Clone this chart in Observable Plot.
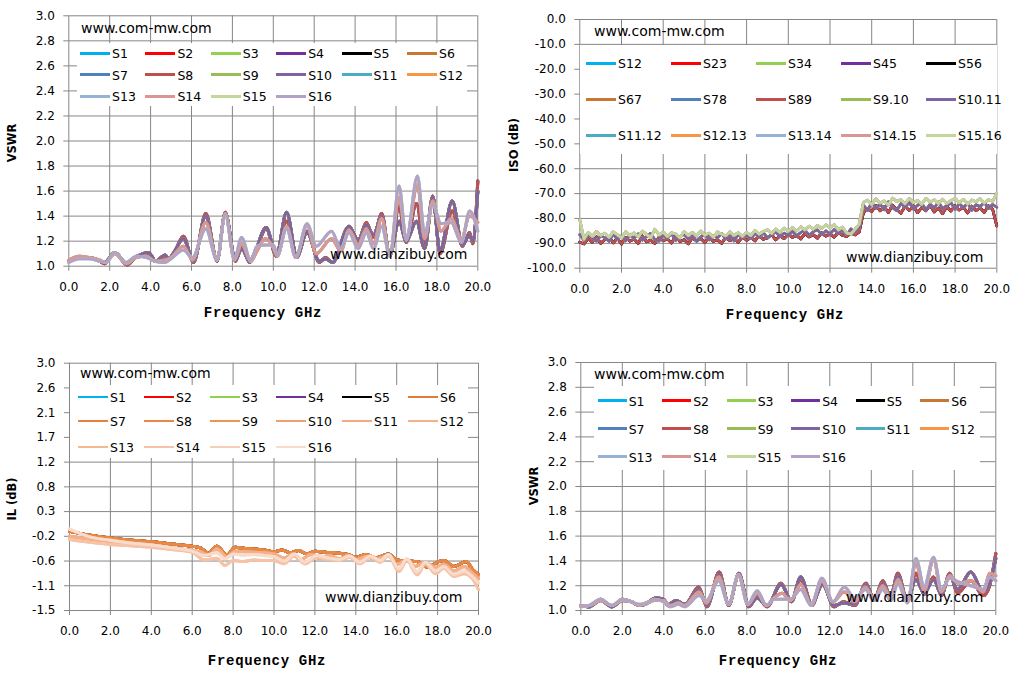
<!DOCTYPE html>
<html><head><meta charset="utf-8">
<script src="https://cdn.jsdelivr.net/npm/d3@7"></script>
<script src="https://cdn.jsdelivr.net/npm/@observablehq/plot@0.6"></script>
<style>
body{margin:0;background:#fff;}
#page{position:relative;width:1032px;height:674px;overflow:hidden;font-family:"DejaVu Sans",sans-serif;background:#fff;}
.chart{position:absolute;}
.chart svg text{fill:#000;}
.ov{position:absolute;white-space:nowrap;color:#000;}
.lbox{position:absolute;background:#fff;}
.lline{position:absolute;}
</style>
</head><body><div id="page"></div>
<script>
// ---------- common ----------
const xTicks = [0, 2, 4, 6, 8, 10, 12, 14, 16, 18, 20];
const namesS = ["S1","S2","S3","S4","S5","S6","S7","S8","S9","S10","S11","S12","S13","S14","S15","S16"];
const colorsS = ["#00B0F0","#FF0000","#92D050","#7030A0","#000000","#C87832","#4F81BD","#C0504D","#9BBB59","#8064A2","#4BACC6","#F79646","#95B3D7","#D99694","#C3D69B","#B3A2C7"];

// ---------- panel 1 (VSWR, top-left) ----------
const yTicks1 = [1.0,1.2,1.4,1.6,1.8,2.0,2.2,2.4,2.6,2.8,3.0];
const freq1Dark = [0,0.4,1.0,1.4,1.75,2.25,2.85,3.35,3.9,4.25,4.7,4.9,5.1,5.6,6.1,6.7,7.25,7.65,8.15,8.45,8.85,9.1,9.65,10.15,10.65,11.15,11.65,12.25,12.55,12.9,13.7,14.15,14.55,14.9,15.3,15.7,16.15,16.5,17.0,17.4,17.8,18.15,18.75,19.25,19.6,19.75,20];
const vswr1A = [1.04,1.07,1.07,1.05,1.02,1.11,1.01,1.08,1.09,1.04,1.07,1.06,1.09,1.24,1.03,1.42,1.04,1.43,1.04,1.15,1.03,1.10,1.30,1.08,1.36,1.07,1.28,1.03,1.07,1.03,1.30,1.20,1.35,1.23,1.42,1.08,1.48,1.19,1.50,1.18,1.56,1.10,1.44,1.16,1.27,1.18,1.68];
const vswr1B = [1.04,1.07,1.07,1.05,1.03,1.11,1.02,1.08,1.11,1.04,1.09,1.06,1.10,1.22,1.04,1.40,1.05,1.42,1.05,1.14,1.04,1.11,1.31,1.09,1.43,1.08,1.27,1.04,1.06,1.03,1.32,1.21,1.33,1.25,1.40,1.09,1.36,1.20,1.36,1.14,1.55,1.12,1.52,1.17,1.25,1.20,1.60];
const freq1Light = [0,0.5,1.0,1.5,1.8,2.25,2.8,3.3,3.8,4.2,4.7,5.0,5.6,6.05,6.7,7.25,7.65,8.1,8.45,8.9,9.2,9.6,10.0,10.2,10.65,11.1,11.65,12.1,12.85,13.3,13.7,14.15,14.55,14.9,15.3,15.7,16.15,16.5,17.05,17.4,17.8,18.2,18.7,19.2,19.6,20];
const vswr1C = [1.03,1.06,1.06,1.04,1.03,1.11,1.03,1.08,1.07,1.04,1.03,1.06,1.13,1.07,1.30,1.05,1.41,1.06,1.23,1.04,1.16,1.17,1.17,1.09,1.30,1.07,1.34,1.16,1.28,1.14,1.27,1.14,1.27,1.14,1.32,1.08,1.64,1.21,1.72,1.26,1.49,1.34,1.35,1.19,1.44,1.28];
const vswr1D = [1.05,1.08,1.07,1.05,1.03,1.10,1.02,1.07,1.08,1.04,1.05,1.07,1.16,1.05,1.35,1.05,1.42,1.05,1.18,1.04,1.12,1.22,1.15,1.08,1.32,1.07,1.33,1.10,1.22,1.12,1.29,1.17,1.30,1.18,1.38,1.09,1.55,1.22,1.65,1.22,1.52,1.28,1.38,1.22,1.40,1.35];
const groups1 = ["A","A","B","B","B","B","A","A","B","B","D","D","C","D","C","C"];

// ---------- panel 2 (ISO, top-right) ----------
const yTicks2 = [-100,-90,-80,-70,-60,-50,-40,-30,-20,-10,0];
const namesIso = ["S12","S23","S34","S45","S56","S67","S78","S89","S9.10","S10.11","S11.12","S12.13","S13.14","S14.15","S15.16"];
const colorsIso = ["#00B0F0","#FF0000","#92D050","#7030A0","#000000","#C87832","#4F81BD","#C0504D","#9BBB59","#8064A2","#4BACC6","#F79646","#95B3D7","#D99694","#C3D69B"];
const freq2 = d3.range(101).map(i => i * 0.2); // 0.2 GHz sweep
const iso2Lo = [-89.5,-90.2,-88.1,-89.6,-87.4,-90.0,-88.6,-87.2,-89.8,-88.0,-90.3,-87.6,-89.1,-88.3,-90.0,-87.0,-89.4,-88.8,-90.1,-87.5,-89.0,-88.2,-89.9,-86.9,-89.3,-88.5,-90.2,-87.8,-89.0,-88.0,-89.7,-87.3,-89.2,-88.6,-90.0,-87.7,-88.9,-88.1,-89.6,-87.4,-88.8,
 -87.6,-89.0,-86.8,-88.4,-87.9,-86.5,-88.6,-87.0,-88.1,-86.4,-87.6,-86.9,-88.2,-86.1,-87.4,-86.6,-87.9,-85.8,-87.1,-86.3,-87.5,-85.6,-86.8,-87.3,-85.9,-86.6,-85.4,
 -77.8,-75.9,-77.2,-74.8,-76.9,-75.3,-77.6,-74.6,-76.4,-77.9,-75.1,-76.8,-74.9,-77.7,-75.6,-76.9,-74.7,-77.4,-75.8,-78.1,-75.2,-77.0,-74.8,-76.6,-75.5,-77.8,-75.0,-76.9,-75.7,-77.5,-74.9,-76.3,-83.0];
const iso2Mid = [-86.5,-88.8,-86.4,-88.0,-89.1,-86.9,-87.7,-89.2,-86.3,-88.4,-87.0,-89.0,-86.6,-87.9,-86.2,-88.7,-87.3,-86.0,-88.5,-89.1,-86.7,-87.8,-86.1,-88.9,-87.2,-86.4,-88.3,-86.8,-89.2,-87.4,-86.3,-88.6,-86.9,-87.8,-86.1,-88.2,-87.0,-89.0,-86.5,-87.9,-86.7,
 -88.1,-86.0,-87.5,-85.7,-87.8,-86.4,-85.4,-87.3,-85.9,-86.8,-85.2,-87.0,-85.6,-84.8,-86.7,-85.3,-84.6,-86.4,-85.0,-86.2,-84.4,-85.8,-84.9,-86.7,-84.2,-85.5,-83.8,
 -74.6,-76.8,-73.6,-75.9,-74.2,-76.5,-73.3,-75.7,-76.9,-74.0,-75.4,-73.5,-76.2,-74.7,-73.9,-76.6,-74.3,-75.8,-73.4,-76.1,-74.8,-73.7,-76.4,-74.1,-75.6,-73.8,-76.7,-74.5,-75.2,-73.6,-76.0,-74.4,-75.5];
const iso2Hi = [-80.5,-88.3,-85.6,-87.2,-85.2,-86.8,-85.9,-87.6,-85.4,-86.5,-87.9,-85.3,-86.9,-85.8,-87.4,-85.1,-86.4,-87.7,-84.3,-86.6,-85.5,-87.3,-85.7,-86.2,-87.8,-85.2,-86.9,-85.6,-87.1,-85.0,-86.7,-85.9,-87.5,-85.4,-86.3,-87.0,-85.3,-86.8,-85.7,-87.2,-85.5,
 -86.9,-84.8,-86.3,-85.2,-84.5,-86.0,-84.2,-85.6,-83.9,-85.1,-83.6,-85.0,-83.4,-84.6,-83.1,-84.3,-82.8,-84.0,-82.6,-83.7,-82.4,-84.6,-83.5,-85.8,-86.3,-84.4,-82.3,
 -73.5,-72.6,-74.4,-72.1,-73.8,-72.9,-74.6,-71.8,-73.2,-72.4,-74.1,-72.0,-73.6,-72.7,-74.3,-71.9,-73.4,-72.5,-74.0,-72.2,-73.9,-72.8,-71.9,-73.7,-72.3,-74.2,-72.6,-73.3,-72.0,-73.8,-72.5,-73.1,-69.8];
const groups2 = ["lo","lo","mid","lo","lo","mid","mid","lo","mid","mid","hi","hi","hi","hi","hi"];

// ---------- panel 3 (IL, bottom-left) ----------
const yTicks3 = [-1.5,-1.05,-0.6,-0.15,0.3,0.75,1.2,1.65,2.1,2.55,3.0];
const yLabels3 = ["-1.5","-1.1","-0.6","-0.2","0.3","0.8","1.2","1.7","2.1","2.6","3.0"];
const namesIL = namesS;
const colorsIL = ["#00B0F0","#FF0000","#92D050","#7030A0","#000000","#E07B39","#E3843E","#E88A45","#EE9455","#F0A070","#F3AA80","#F4B08A","#F5B990","#F6C3A8","#F7CDB8","#F9DBCC"];
const freq3U = [0,1,2,3,4,5,6,6.4,6.8,7.2,7.7,8.1,8.6,9,9.5,10,10.4,10.8,11.2,11.6,12,12.5,13,13.6,14,14.5,15,15.6,16,16.5,17,17.5,18,18.3,18.8,19.4,19.7,20];
const il3U = [-0.06,-0.13,-0.18,-0.22,-0.25,-0.29,-0.33,-0.36,-0.46,-0.33,-0.49,-0.35,-0.37,-0.38,-0.40,-0.43,-0.40,-0.45,-0.41,-0.47,-0.42,-0.44,-0.45,-0.48,-0.53,-0.48,-0.54,-0.47,-0.58,-0.60,-0.61,-0.71,-0.62,-0.59,-0.70,-0.61,-0.75,-0.85];
const freq3M = [0,1,2,3,4,5,6,6.4,6.8,7.2,7.7,8.1,8.6,9,9.5,10,10.5,10.9,11.3,11.8,12.2,12.7,13.2,13.6,14,14.5,15,15.6,16,16.5,16.9,17.4,17.9,18.3,18.8,19.3,19.7,20];
const il3M = [-0.15,-0.20,-0.24,-0.28,-0.31,-0.36,-0.41,-0.43,-0.50,-0.38,-0.53,-0.42,-0.43,-0.44,-0.45,-0.47,-0.55,-0.47,-0.58,-0.48,-0.55,-0.50,-0.56,-0.50,-0.58,-0.52,-0.57,-0.50,-0.66,-0.58,-0.70,-0.62,-0.72,-0.66,-0.78,-0.70,-0.82,-0.92];
const freq3L = [0,1,2,3,4,5,6,6.6,7.2,7.6,8,8.5,9,9.5,10,10.5,11,11.5,12.1,12.6,13.2,13.7,14.2,14.7,15.2,15.6,16.1,16.5,17,17.4,17.9,18.3,18.8,19.3,19.7,20];
const il3L = [-0.21,-0.26,-0.30,-0.32,-0.35,-0.39,-0.44,-0.58,-0.55,-0.68,-0.59,-0.61,-0.58,-0.59,-0.59,-0.65,-0.50,-0.65,-0.53,-0.57,-0.59,-0.53,-0.65,-0.53,-0.62,-0.50,-0.79,-0.59,-0.85,-0.65,-0.83,-0.73,-0.88,-0.83,-0.92,-1.12];
const il3H = [-0.02,-0.16,-0.22,-0.27,-0.31,-0.36,-0.42,-0.50,-0.45,-0.56,-0.47,-0.49,-0.48,-0.50,-0.52,-0.60,-0.47,-0.62,-0.50,-0.54,-0.57,-0.51,-0.62,-0.51,-0.59,-0.48,-0.74,-0.56,-0.80,-0.62,-0.78,-0.70,-0.84,-0.78,-0.88,-1.00];
const groups3 = ["U","U","U","U","U","U","U","U","M","M","M","M","L","L","H","H"];

// ---------- panel 4 (VSWR, bottom-right) ----------
const yTicks4 = yTicks1;
const freq4Dark = [0,0.4,0.95,1.5,2.0,2.45,2.8,3.1,3.6,4.0,4.2,4.6,5.0,5.68,6.08,6.67,7.13,7.62,8.1,8.5,8.98,9.65,10.15,10.6,11.13,11.65,12.2,12.65,13.2,13.75,14.13,14.55,14.93,15.28,15.74,16.15,16.55,17.0,17.38,17.78,18.15,18.8,19.4,19.7,20];
const vswr4A = [1.04,1.03,1.09,1.03,1.09,1.07,1.04,1.05,1.09,1.08,1.04,1.07,1.04,1.19,1.03,1.31,1.04,1.30,1.03,1.11,1.03,1.22,1.07,1.25,1.04,1.22,1.03,1.07,1.04,1.22,1.08,1.24,1.11,1.30,1.07,1.30,1.13,1.27,1.12,1.30,1.14,1.24,1.12,1.20,1.46];
const vswr4B = [1.04,1.03,1.08,1.03,1.08,1.07,1.04,1.05,1.10,1.09,1.05,1.08,1.05,1.17,1.04,1.29,1.05,1.29,1.04,1.10,1.04,1.21,1.08,1.27,1.05,1.21,1.04,1.06,1.05,1.21,1.09,1.22,1.12,1.28,1.08,1.25,1.14,1.25,1.13,1.29,1.17,1.31,1.15,1.22,1.42];
const freq4Light = [0,0.4,0.95,1.5,2.0,2.45,2.8,3.1,3.55,4.0,4.3,4.7,5.0,5.7,6.05,6.65,7.13,7.6,8.05,8.5,8.95,9.3,9.7,10.1,10.6,11.1,11.62,12.15,12.7,13.2,13.72,14.13,14.55,14.95,15.28,15.74,16.15,16.55,17.0,17.38,17.78,18.2,18.8,19.4,19.7,20];
const vswr4C = [1.03,1.04,1.09,1.04,1.09,1.07,1.05,1.05,1.09,1.07,1.03,1.05,1.03,1.12,1.08,1.24,1.05,1.29,1.05,1.16,1.04,1.09,1.09,1.09,1.17,1.04,1.26,1.07,1.19,1.10,1.17,1.08,1.17,1.08,1.22,1.06,1.42,1.19,1.43,1.17,1.26,1.23,1.20,1.17,1.27,1.24];
const vswr4D = [1.04,1.04,1.08,1.04,1.08,1.07,1.04,1.06,1.08,1.08,1.04,1.06,1.04,1.15,1.06,1.27,1.05,1.28,1.05,1.14,1.04,1.10,1.14,1.08,1.21,1.05,1.24,1.07,1.15,1.07,1.19,1.09,1.20,1.10,1.25,1.07,1.38,1.16,1.41,1.15,1.28,1.22,1.24,1.15,1.30,1.28];
const groups4 = groups1;

// ---------- drawing ----------
const page = document.getElementById("page");
const GRID = "#868686";

function overlay(text, x, y, css, anchor) {
  const d = document.createElement("div");
  d.className = "ov";
  d.textContent = text;
  d.style.left = x + "px";
  d.style.top = y + "px";
  d.style.cssText += css;
  d.style.transform = anchor;
  page.append(d);
}

function makePanel(p) {
  const data = [];
  p.names.forEach((n, i) => {
    const c = p.curves[p.groups[i]];
    c.f.forEach((f, j) => data.push({s: n, f, v: c.v[j]}));
  });
  const svg = Plot.plot({
    width: p.w, height: p.h,
    marginLeft: p.mL, marginRight: p.mR, marginTop: p.mT, marginBottom: p.mB,
    style: {color: GRID, fontFamily: "DejaVu Sans", fontSize: "12px", background: "transparent", overflow: "visible"},
    x: {domain: [0, 20], ticks: xTicks, tickFormat: d => d.toFixed(1), tickSize: 5, tickPadding: 11, label: null},
    y: {domain: p.yDomain, ticks: p.yTicks, tickFormat: p.yFmt, tickSize: 5, tickPadding: 9, label: null},
    color: {domain: p.names, range: p.colors},
    marks: [
      Plot.ruleX(xTicks, {stroke: GRID, strokeWidth: 1}),
      Plot.ruleY(p.yTicks, {stroke: GRID, strokeWidth: 1}),
      Plot.line(data, {x: "f", y: "v", z: "s", stroke: "s", strokeWidth: p.sw, curve: p.curve, strokeLinejoin: "round", strokeLinecap: "round"})
    ]
  });
  const wrap = document.createElement("div");
  wrap.className = "chart";
  wrap.style.left = p.left + "px";
  wrap.style.top = p.top + "px";
  wrap.append(svg);
  page.append(wrap);

  // legend box + entries
  const L = p.legend;
  const box = document.createElement("div");
  box.className = "lbox";
  box.style.cssText += `left:${L.box[0]}px;top:${L.box[1]}px;width:${L.box[2] - L.box[0]}px;height:${L.box[3] - L.box[1]}px;`;
  page.append(box);
  p.names.forEach((n, i) => {
    const cx = L.x0 + (i % L.cols) * L.dx;
    const cy = L.rows[Math.floor(i / L.cols)];
    const ln = document.createElement("div");
    ln.className = "lline";
    ln.style.cssText += `left:${cx}px;top:${cy - L.lw / 2}px;width:${L.len}px;height:${L.lw}px;background:${p.colors[i]};`;
    page.append(ln);
    overlay(n, cx + L.len + 2, cy, "font-size:12.5px;", "translateY(-50%)");
  });

  // texts
  overlay("www.com-mw.com", p.wm1[0], p.wm1[1], "font-size:14px;", "translateY(-50%)");
  overlay("www.dianzibuy.com", p.wm2[0], p.wm2[1], "font-size:14px;", "translateY(-50%)");
  overlay("Frequency GHz", p.xt[0], p.xt[1], "font-family:'Liberation Mono',monospace;font-weight:bold;font-size:14px;letter-spacing:0.7px;", "translate(-50%,-50%)");
  overlay(p.ytitle, p.yt[0], p.yt[1], "font-weight:bold;font-size:11.5px;", "translate(-50%,-50%) rotate(-90deg)");
}

const f1 = d => d.toFixed(1);

makePanel({
  left: 0, top: 0, w: 516, h: 337, mL: 68.3, mR: 38.7, mT: 15.3, mB: 71.3,
  yDomain: [1, 3], yTicks: yTicks1, yFmt: f1,
  names: namesS, colors: colorsS, groups: groups1, sw: 3, curve: "monotone-x",
  curves: {A: {f: freq1Dark, v: vswr1A}, B: {f: freq1Dark, v: vswr1B}, C: {f: freq1Light, v: vswr1C}, D: {f: freq1Light, v: vswr1D}},
  legend: {box: [77, 43, 467, 106], x0: 80, dx: 65.4, rows: [53, 74.5, 96], cols: 6, len: 30, lw: 3},
  wm1: [81, 28], wm2: [330, 254], xt: [263, 313], yt: [12, 143], ytitle: "VSWR"
});

makePanel({
  left: 516, top: 0, w: 516, h: 337, mL: 63.3, mR: 35.7, mT: 19, mB: 69.3,
  yDomain: [-100, 0], yTicks: yTicks2, yFmt: f1,
  names: namesIso, colors: colorsIso, groups: groups2, sw: 2.6, curve: "linear",
  curves: {lo: {f: freq2, v: iso2Lo}, mid: {f: freq2, v: iso2Mid}, hi: {f: freq2, v: iso2Hi}},
  legend: {box: [580, 45, 997, 154], x0: 586, dx: 85, rows: [63, 99, 135], cols: 5, len: 30, lw: 3},
  wm1: [594, 31], wm2: [846, 257], xt: [785, 315], yt: [514, 145], ytitle: "ISO (dB)"
});

makePanel({
  left: 0, top: 337, w: 516, h: 337, mL: 69, mR: 38, mT: 25.7, mB: 64,
  yDomain: [-1.5, 3.0], yTicks: yTicks3, yFmt: d => yLabels3[yTicks3.indexOf(d)],
  names: namesIL, colors: colorsIL, groups: groups3, sw: 3, curve: "monotone-x",
  curves: {U: {f: freq3U, v: il3U}, M: {f: freq3M, v: il3M}, L: {f: freq3L, v: il3L}, H: {f: freq3L, v: il3H}},
  legend: {box: [70, 385, 468, 458], x0: 78, dx: 66, rows: [397.3, 421.3, 446.7], cols: 6, len: 30, lw: 2},
  wm1: [80, 373], wm2: [325, 597], xt: [267, 661], yt: [12, 499], ytitle: "IL (dB)"
});

makePanel({
  left: 516, top: 337, w: 516, h: 337, mL: 64.3, mR: 36.7, mT: 25, mB: 64,
  yDomain: [1, 3], yTicks: yTicks4, yFmt: f1,
  names: namesS, colors: colorsS, groups: groups4, sw: 3, curve: "monotone-x",
  curves: {A: {f: freq4Dark, v: vswr4A}, B: {f: freq4Dark, v: vswr4B}, C: {f: freq4Light, v: vswr4C}, D: {f: freq4Light, v: vswr4D}},
  legend: {box: [594, 386, 980, 470], x0: 597.7, dx: 64.5, rows: [400.7, 428.7, 456.7], cols: 6, len: 29, lw: 3},
  wm1: [594, 374], wm2: [846, 597], xt: [778, 661], yt: [534, 486], ytitle: "VSWR"
});
</script>
</body></html>
